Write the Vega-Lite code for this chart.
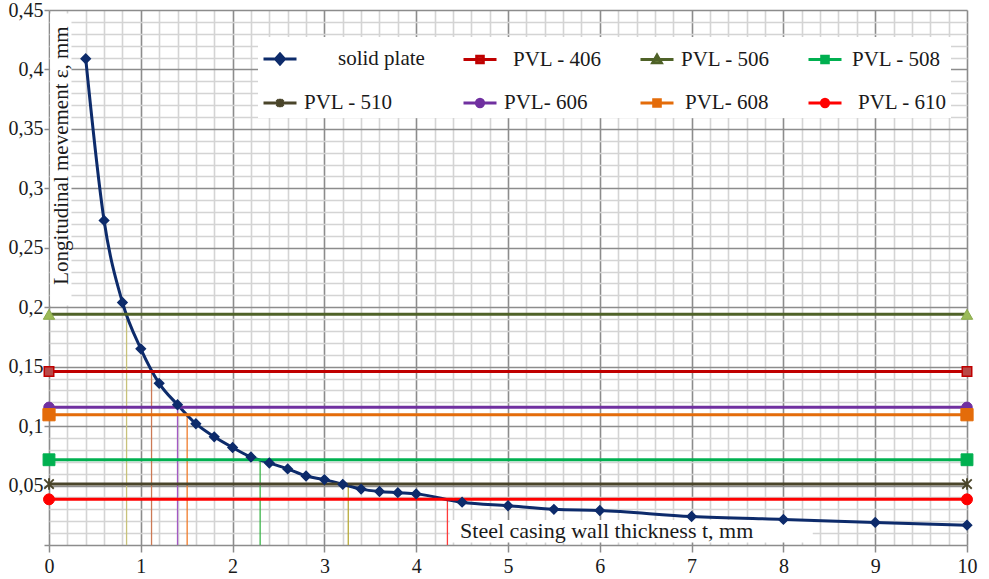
{
  "$schema": "https://vega.github.io/schema/vega-lite/v6.json",
  "width": 918,
  "height": 535,
  "autosize": {"type": "none"},
  "padding": {"left": 49, "top": 10, "right": 22, "bottom": 34},
  "background": "white",
  "view": {"stroke": null},
  "config": {
    "font": "Liberation Serif",
    "axis": {"labelFont": "Liberation Serif", "labelFontSize": 20, "labelColor": "#1a1a1a"},
    "legend": {"labelFont": "Liberation Serif", "labelFontSize": 21, "labelColor": "#1a1a1a"}
  },
  "datasets": {
    "series": [
      {"series": "solid plate", "t": 0.4, "eps": 0.409},
      {"series": "solid plate", "t": 0.6, "eps": 0.273},
      {"series": "solid plate", "t": 0.8, "eps": 0.204},
      {"series": "solid plate", "t": 1.0, "eps": 0.165},
      {"series": "solid plate", "t": 1.2, "eps": 0.136},
      {"series": "solid plate", "t": 1.4, "eps": 0.118},
      {"series": "solid plate", "t": 1.6, "eps": 0.102},
      {"series": "solid plate", "t": 1.8, "eps": 0.091},
      {"series": "solid plate", "t": 2.0, "eps": 0.082},
      {"series": "solid plate", "t": 2.2, "eps": 0.074},
      {"series": "solid plate", "t": 2.4, "eps": 0.069},
      {"series": "solid plate", "t": 2.6, "eps": 0.064},
      {"series": "solid plate", "t": 2.8, "eps": 0.058},
      {"series": "solid plate", "t": 3.0, "eps": 0.055},
      {"series": "solid plate", "t": 3.2, "eps": 0.051},
      {"series": "solid plate", "t": 3.4, "eps": 0.047},
      {"series": "solid plate", "t": 3.6, "eps": 0.045},
      {"series": "solid plate", "t": 3.8, "eps": 0.044},
      {"series": "solid plate", "t": 4.0, "eps": 0.043},
      {"series": "solid plate", "t": 4.5, "eps": 0.036},
      {"series": "solid plate", "t": 5.0, "eps": 0.033},
      {"series": "solid plate", "t": 5.5, "eps": 0.030},
      {"series": "solid plate", "t": 6.0, "eps": 0.029},
      {"series": "solid plate", "t": 7.0, "eps": 0.024},
      {"series": "solid plate", "t": 8.0, "eps": 0.0215},
      {"series": "solid plate", "t": 9.0, "eps": 0.019},
      {"series": "solid plate", "t": 10.0, "eps": 0.0167},
      {"series": "PVL - 406", "t": 0, "eps": 0.146},
      {"series": "PVL - 406", "t": 10, "eps": 0.146},
      {"series": "PVL - 506", "t": 0, "eps": 0.194},
      {"series": "PVL - 506", "t": 10, "eps": 0.194},
      {"series": "PVL - 508", "t": 0, "eps": 0.0717},
      {"series": "PVL - 508", "t": 10, "eps": 0.0717},
      {"series": "PVL - 510", "t": 0, "eps": 0.0513},
      {"series": "PVL - 510", "t": 10, "eps": 0.0513},
      {"series": "PVL- 606", "t": 0, "eps": 0.1158},
      {"series": "PVL- 606", "t": 10, "eps": 0.1158},
      {"series": "PVL- 608", "t": 0, "eps": 0.1096},
      {"series": "PVL- 608", "t": 10, "eps": 0.1096},
      {"series": "PVL - 610", "t": 0, "eps": 0.0384},
      {"series": "PVL - 610", "t": 10, "eps": 0.0384}
    ],
    "drops": [
      {"series": "PVL - 506", "t": 0.845, "eps": 0.194, "base": 0},
      {"series": "PVL - 406", "t": 1.117, "eps": 0.146, "base": 0},
      {"series": "PVL- 606", "t": 1.40, "eps": 0.1158, "base": 0},
      {"series": "PVL- 608", "t": 1.505, "eps": 0.1096, "base": 0},
      {"series": "PVL - 508", "t": 2.30, "eps": 0.0717, "base": 0},
      {"series": "PVL - 510", "t": 3.26, "eps": 0.0513, "base": 0},
      {"series": "PVL - 610", "t": 4.34, "eps": 0.0384, "base": 0}
    ]
  },
  "data": {"name": "series"},
  "encoding": {
    "x": {
      "field": "t",
      "type": "quantitative",
      "scale": {"domain": [0, 10], "nice": false, "zero": false},
      "axis": {
        "title": null,
        "domain": false,
        "values": [0,0.2,0.4,0.6,0.8,1,1.2,1.4,1.6,1.8,2,2.2,2.4,2.6,2.8,3,3.2,3.4,3.6,3.8,4,4.2,4.4,4.6,4.8,5,5.2,5.4,5.6,5.8,6,6.2,6.4,6.6,6.8,7,7.2,7.4,7.6,7.8,8,8.2,8.4,8.6,8.8,9,9.2,9.4,9.6,9.8,10],
        "labelExpr": "datum.value % 1 === 0 ? format(datum.value, 'd') : ''",
        "labelOverlap": false,
        "labelFlush": false,
        "labelPadding": 4,
        "labelFont": "Liberation Serif",
        "labelFontSize": 20,
        "tickSize": 7,
        "tickWidth": 1.5,
        "tickColor": {"condition": {"test": "datum.value % 1 === 0", "value": "#8c8c8c"}, "value": "transparent"},
        "grid": true,
        "gridColor": {"condition": {"test": "datum.value % 1 === 0", "value": "#8c8c8c"}, "value": "#d4d4d4"},
        "gridWidth": 1.6
      }
    },
    "y": {
      "field": "eps",
      "type": "quantitative",
      "scale": {"domain": [0, 0.45], "nice": false, "zero": false},
      "axis": {
        "title": null,
        "domain": false,
        "values": [0,0.01,0.02,0.03,0.04,0.05,0.06,0.07,0.08,0.09,0.1,0.11,0.12,0.13,0.14,0.15,0.16,0.17,0.18,0.19,0.2,0.21,0.22,0.23,0.24,0.25,0.26,0.27,0.28,0.29,0.3,0.31,0.32,0.33,0.34,0.35,0.36,0.37,0.38,0.39,0.4,0.41,0.42,0.43,0.44,0.45],
        "labelExpr": "(datum.value > 0 && abs(datum.value * 20 - round(datum.value * 20)) < 0.000001) ? replace(format(datum.value, '.2~f'), '.', ',') : ''",
        "labelOverlap": false,
        "labelFlush": false,
        "labelPadding": 1,
        "labelFont": "Liberation Serif",
        "labelFontSize": 20,
        "tickSize": 5,
        "tickWidth": 1.5,
        "tickColor": {"condition": {"test": "abs(datum.value * 20 - round(datum.value * 20)) < 0.000001", "value": "#8c8c8c"}, "value": "transparent"},
        "grid": true,
        "gridColor": {"condition": {"test": "abs(datum.value * 20 - round(datum.value * 20)) < 0.000001", "value": "#8c8c8c"}, "value": "#d4d4d4"},
        "gridWidth": 1.6
      }
    }
  },
  "layer": [
    {
      "data": {"values": [{"t": 0.012, "t2": 0.245, "eps": 0.2015, "eps2": 0.447}, {"t": 4.365, "t2": 8.32, "eps": 0.002, "eps2": 0.021}]},
      "mark": {"type": "rect", "fill": "white"},
      "encoding": {"x2": {"field": "t2"}, "y2": {"field": "eps2"}}
    },
    {
      "data": {"name": "drops"},
      "mark": {"type": "rule", "strokeWidth": 1.3},
      "encoding": {
        "y2": {"field": "base"},
        "stroke": {
          "field": "series", "type": "nominal", "legend": null,
          "scale": {
            "domain": ["PVL - 406", "PVL - 506", "PVL - 508", "PVL - 510", "PVL- 606", "PVL- 608", "PVL - 610"],
            "range": ["#cc7a55", "#c8c27a", "#3cb44a", "#b8aa3a", "#a458c4", "#f07c2c", "#ff3b3b"]
          }
        }
      }
    },
    {
      "mark": {"type": "line", "strokeWidth": 3, "interpolate": "monotone"},
      "encoding": {
        "color": {
          "field": "series", "type": "nominal",
          "scale": {
            "domain": ["solid plate", "PVL - 406", "PVL - 506", "PVL - 508", "PVL - 510", "PVL- 606", "PVL- 608", "PVL - 610"],
            "range": ["#0d2b6b", "#c00000", "#4f6228", "#00b050", "#4a452a", "#7030a0", "#e46c0a", "#ff0000"]
          },
          "legend": {
            "title": null,
            "orient": "none",
            "legendX": 209,
            "legendY": 27,
            "direction": "horizontal",
            "columns": 4,
            "columnPadding": 32,
            "rowPadding": 15,
            "padding": 4,
            "fillColor": "white",
            "symbolSize": 1089,
            "symbolStrokeWidth": 3,
            "labelFont": "Liberation Serif",
            "labelFontSize": 21,
            "labelColor": "#1a1a1a",
            "labelOffset": 6,
            "labelLimit": 300,
            "encode": {
              "symbols": {
                "update": {
                  "shape": {"signal": "datum.value === 'solid plate' ? 'M-1,0H1M0,-0.3L0.27,0L0,0.3L-0.27,0Z' : datum.value === 'PVL - 506' ? 'M-1,0H1M0,-0.26L0.26,0.2L-0.26,0.2Z' : datum.value === 'PVL - 510' ? 'M-1,0H1M-0.2,-0.2L0.2,0.2M-0.2,0.2L0.2,-0.2M0,-0.26V0.26' : (datum.value === 'PVL- 606' || datum.value === 'PVL - 610') ? 'M-1,0H1M-0.22,0A0.22,0.22 0 1,0 0.22,0A0.22,0.22 0 1,0 -0.22,0Z' : 'M-1,0H1M-0.2,-0.2H0.2V0.2H-0.2Z'"},
                  "fill": {"signal": "datum.value === 'PVL - 406' ? '#b84a48' : datum.value === 'PVL - 506' ? '#9bbb59' : scale('color', datum.value)"},
                  "stroke": {"signal": "scale('color', datum.value)"},
                  "strokeWidth": {"value": 3},
                  "opacity": {"value": 1}
                }
              },
              "labels": {
                "update": {
                  "dx": {"signal": "datum.value === 'solid plate' ? 34 : datum.value === 'PVL - 406' ? 9 : datum.value === 'PVL - 610' ? 9 : datum.value === 'PVL- 608' ? 4 : datum.value === 'PVL - 508' ? 3 : 0"}
                }
              }
            }
          }
        },
        "detail": {"field": "series"}
      }
    },
    {
      "transform": [{"filter": {"field": "series", "equal": "solid plate"}}],
      "mark": {"type": "point", "shape": "diamond", "size": 85, "filled": true, "fill": "#0d2b6b", "stroke": "#0d2b6b", "strokeWidth": 1.5, "opacity": 1}
    },
    {
      "transform": [{"filter": {"field": "series", "equal": "PVL - 406"}}],
      "mark": {"type": "point", "shape": "square", "size": 90, "filled": true, "fill": "#b84a48", "stroke": "#c00000", "strokeWidth": 1.5, "opacity": 1}
    },
    {
      "transform": [{"filter": {"field": "series", "equal": "PVL - 506"}}],
      "mark": {"type": "point", "shape": "triangle-up", "size": 130, "filled": true, "fill": "#9bbb59", "stroke": "#8aab4c", "strokeWidth": 1, "opacity": 1}
    },
    {
      "transform": [{"filter": {"field": "series", "equal": "PVL - 508"}}],
      "mark": {"type": "point", "shape": "square", "size": 140, "filled": true, "fill": "#00b050", "stroke": "#00b050", "strokeWidth": 1, "opacity": 1}
    },
    {
      "transform": [{"filter": {"field": "series", "equal": "PVL - 510"}}],
      "mark": {"type": "point", "shape": "M-1,-1L1,1M-1,1L1,-1M0,-1.2V1.2", "size": 90, "filled": false, "stroke": "#4a452a", "strokeWidth": 1.8, "opacity": 1}
    },
    {
      "transform": [{"filter": {"field": "series", "equal": "PVL- 606"}}],
      "mark": {"type": "point", "shape": "circle", "size": 110, "filled": true, "fill": "#7030a0", "stroke": "#7030a0", "strokeWidth": 1, "opacity": 1}
    },
    {
      "transform": [{"filter": {"field": "series", "equal": "PVL- 608"}}],
      "mark": {"type": "point", "shape": "square", "size": 150, "filled": true, "fill": "#e46c0a", "stroke": "#e46c0a", "strokeWidth": 1, "opacity": 1}
    },
    {
      "transform": [{"filter": {"field": "series", "equal": "PVL - 610"}}],
      "mark": {"type": "point", "shape": "circle", "size": 120, "filled": true, "fill": "#ff0000", "stroke": "#ff0000", "strokeWidth": 1, "opacity": 1}
    },
    {
      "data": {"values": [{"t": 0.144, "eps": 0.3276, "label": "Longitudinal mevement ε, mm"}]},
      "mark": {"type": "text", "font": "Liberation Serif", "fontSize": 21, "color": "#1a1a1a", "angle": 270, "align": "center", "baseline": "middle"},
      "encoding": {"text": {"field": "label"}}
    },
    {
      "data": {"values": [{"t": 6.075, "eps": 0.0059, "label": "Steel casing wall thickness t, mm"}]},
      "mark": {"type": "text", "font": "Liberation Serif", "fontSize": 22, "color": "#1a1a1a", "align": "center", "baseline": "alphabetic"},
      "encoding": {"text": {"field": "label"}}
    }
  ]
}
